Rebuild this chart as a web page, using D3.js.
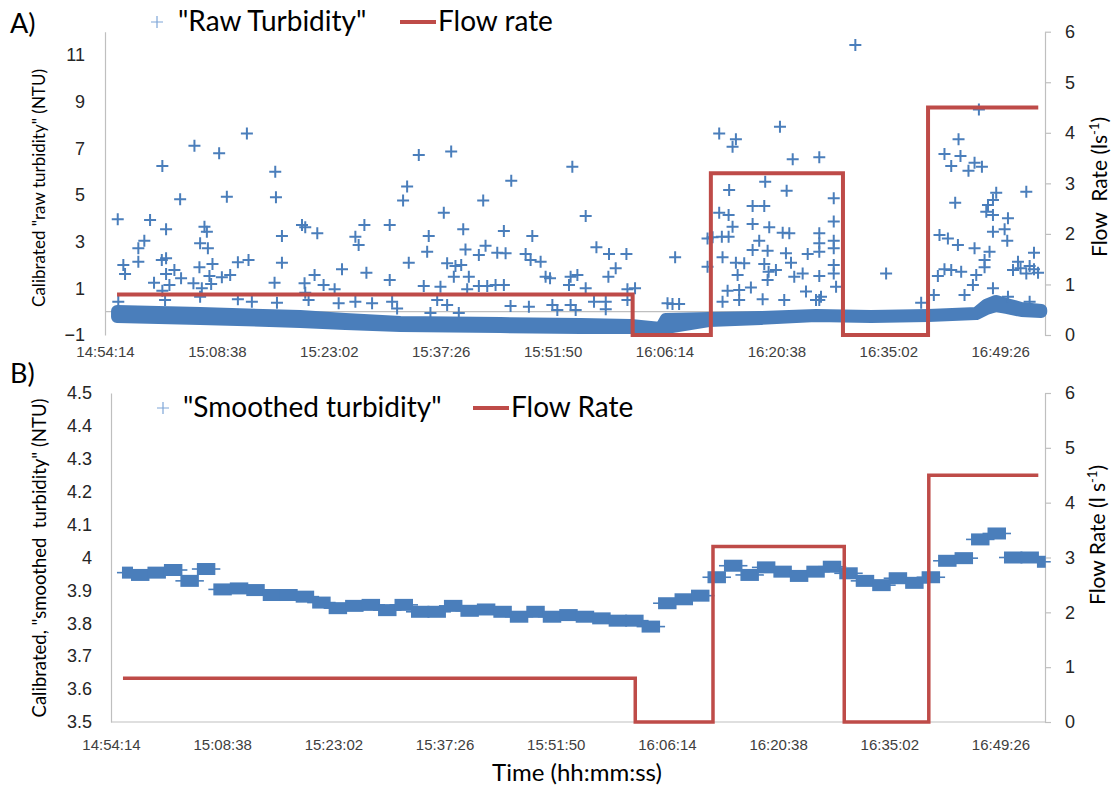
<!DOCTYPE html>
<html>
<head>
<meta charset="utf-8">
<script src="https://cdn.jsdelivr.net/npm/d3@7"></script>
<style>
  html, body { margin: 0; padding: 0; background: #fff; }
  svg { display: block; font-family: Lato, "Open Sans", sans-serif; }
</style>
</head>
<body>
<svg id="chart" width="1118" height="789"></svg>
<script>
// ---------- data ----------
const timeTicks = ["14:54:14", "15:08:38", "15:23:02", "15:37:26", "15:51:50",
                   "16:06:14", "16:20:38", "16:35:02", "16:49:26"];
const axisEnd = "16:55:12";

const rawTicksNTU = [-1, 1, 3, 5, 7, 9, 11];
const smoothTicksNTU = [3.5, 3.6, 3.7, 3.8, 3.9, 4.0, 4.1, 4.2, 4.3, 4.4, 4.5];
const flowTicks = [0, 1, 2, 3, 4, 5, 6];

// pump flow rate (l/s), held from each time until the next
const flowTimes = ["14:55:47", "16:02:08", "16:12:12", "16:29:12", "16:40:09", "16:54:20"];
const flowRates = [0.8, 0, 3.2, 0, 4.5, 4.5];

// raw turbidity spikes: minutes after logging start, calibrated NTU
const rawStart = "14:54:14";
const rawMinutes = [
  1.64, 18.26, 11.51, 14.69, 7.38, 21.91, 9.67, 15.68, 22.0, 5.80, 7.86, 12.80, 13.11, 25.35, 25.77,
  27.32, 22.77, 5.06, 4.29, 12.24, 13.24, 2.36, 2.58, 4.29, 7.31, 7.86, 13.83, 17.10, 18.47, 22.77,
  30.50, 6.31, 7.86, 8.29, 8.93, 9.79, 11.38, 12.15, 13.44, 13.66, 15.04, 16.11, 21.82, 26.97, 28.13,
  29.55, 25.68, 12.46, 7.38, 1.71, 7.73, 12.24, 17.10, 18.90, 22.13, 26.20, 30.07, 25.77,
  40.38, 44.55, 60.14, 38.88, 38.36, 52.28, 48.67, 43.60, 33.38, 36.64, 32.22, 32.64, 41.66, 46.10, 51.33,
  54.99, 41.46, 46.39, 48.97, 48.11, 50.48, 51.55, 54.13, 54.77, 56.06, 39.09, 44.03, 45.10, 45.84, 44.89,
  46.82, 33.64, 36.64, 56.70, 57.27, 59.92, 60.79, 41.02, 43.17, 48.11, 49.19, 50.26, 51.33, 46.61, 59.71,
  32.22, 34.37, 36.95, 37.59, 42.75, 44.03, 52.19, 54.55, 57.57, 58.21, 59.92, 41.88, 45.53,
  79.04, 81.19, 80.76, 86.86, 88.50, 84.96, 80.32, 87.72, 61.86, 79.04, 80.25, 83.34, 84.84, 80.76, 83.34,
  85.48, 87.21, 88.06, 78.19, 79.38, 80.25, 84.19, 63.24, 64.86, 67.10, 73.37, 79.47, 83.34, 85.27, 87.63,
  90.43, 65.72, 64.78, 81.19, 82.26, 84.84, 88.28, 85.40, 86.34, 81.41, 85.27, 88.70, 89.78, 61.86, 67.23,
  68.21, 80.12, 81.61, 83.12, 90.21, 62.93, 64.44, 67.23, 72.39, 73.03, 73.88, 79.47, 81.61, 84.63, 87.41,
  91.50, 60.57, 64.44, 77.54, 77.54,
  96.56, 112.46, 109.84, 108.03, 110.09, 108.90, 111.12, 111.90, 112.85, 91.92, 118.56, 109.41, 114.69, 114.27, 113.63,
  113.41, 114.27, 116.20, 115.77, 114.27, 116.11, 119.55, 93.78, 93.78, 91.92, 91.92, 93.78, 93.78, 91.92, 93.78,
  93.78, 91.92, 94.08, 92.14, 100.52, 107.39, 108.47, 109.76, 111.90, 113.83, 113.19, 113.19, 112.12, 111.69, 108.03,
  108.90, 110.18, 107.18, 110.61, 106.66, 114.27, 117.49, 117.82, 118.99, 119.55, 116.85, 118.56, 120.07, 116.20, 105.03,
  91.92, 118.99
];
const rawNTU = [
  3.96, 7.64, 7.11, 6.79, 6.24, 6.00, 4.82, 4.93, 4.90, 3.93, 3.53, 3.64, 3.43, 3.71, 3.62,
  3.36, 3.24, 3.04, 2.72, 2.93, 2.72, 2.00, 1.61, 2.14, 2.21, 2.29, 2.04, 2.12, 2.21, 2.10,
  1.82, 1.24, 1.61, 1.14, 1.79, 1.43, 1.22, 1.90, 1.53, 1.19, 1.47, 1.57, 1.24, 1.57, 1.14,
  0.96, 1.22, 1.00, 0.90, 0.43, 0.50, 0.64, 0.53, 0.43, 0.38, 0.50, 0.36, 0.81,
  6.71, 6.86, 6.21, 5.36, 4.76, 5.61, 4.76, 4.24, 3.71, 3.71, 3.21, 2.86, 3.24, 3.53, 3.46,
  3.24, 2.57, 2.67, 2.83, 2.43, 2.53, 2.50, 2.47, 2.21, 2.14, 2.10, 2.07, 1.96, 2.00, 1.50,
  1.50, 1.67, 1.36, 1.50, 1.43, 1.50, 1.57, 1.10, 1.07, 1.10, 1.10, 1.14, 1.14, 0.96, 1.14,
  0.43, 0.36, 0.43, 0.14, 0.50, 0.29, 0.24, 0.21, 0.29, 0.07, 0.29, -0.06, -0.06,
  7.64, 7.39, 7.07, 7.93, 6.53, 5.57, 5.21, 5.18, 4.10, 4.24, 4.14, 4.53, 4.53, 3.64, 3.76,
  3.62, 3.38, 3.36, 3.19, 3.21, 3.21, 3.04, 2.76, 2.47, 2.47, 2.33, 2.33, 2.64, 2.61, 2.50,
  2.47, 1.86, 1.50, 2.10, 2.07, 2.04, 2.10, 1.71, 1.79, 1.57, 1.36, 1.50, 1.64, 1.00, 0.96,
  1.00, 0.90, 0.93, 1.04, 0.86, 0.43, 0.43, 0.50, 0.36, 0.33, 0.33, 0.43, 0.50, 0.53, 0.50,
  0.50, 0.07, 0.10, 1.93, 3.14,
  11.43, 8.67, 7.39, 6.76, 6.67, 6.24, 6.04, 6.38, 6.21, 6.62, 5.14, 4.67, 5.10, 4.79, 4.57,
  4.28, 4.14, 4.00, 3.53, 3.43, 3.04, 2.53, 4.86, 3.86, 3.36, 2.93, 3.04, 2.72, 2.57, 2.00,
  1.64, 1.53, 1.07, 0.64, 1.64, 3.29, 3.14, 2.86, 2.72, 2.57, 2.21, 1.90, 1.57, 1.14, 1.82,
  1.79, 1.71, 1.53, 0.71, 0.71, 1.00, 2.14, 1.86, 1.96, 1.82, 1.79, 1.64, 1.67, 0.64, 0.38,
  0.50, 0.43
];

// bulk of the raw readings: lower / upper spread of the dense baseline (NTU)
const baseTimes = ["14:55:47", "15:06:29", "15:19:22", "15:25:10", "15:32:15", "15:45:08", "15:55:27",
                   "16:01:53", "16:05:45", "16:06:24", "16:11:56", "16:18:38", "16:25:44", "16:32:49",
                   "16:40:10", "16:46:21", "16:47:38", "16:48:55", "16:50:13", "16:52:09", "16:54:43"];
const baseLow  = [-0.23, -0.31, -0.44, -0.53, -0.61, -0.66, -0.70, -0.70, -0.70, -0.70, -0.40,
                  -0.31, -0.19, -0.23, -0.19, -0.10, 0.11, 0.24, 0.16, 0.03, -0.01];
const baseHigh = [0.03, -0.06, -0.19, -0.31, -0.44, -0.49, -0.53, -0.57, -0.70, -0.31, -0.27,
                  -0.23, -0.14, -0.19, -0.14, -0.06, 0.29, 0.46, 0.33, 0.16, 0.07];

// smoothed turbidity: one value per 128 s averaging window
const smoothFirstReading = "14:55:47";
const smoothLastReading = "16:55:10";
const smoothBlockStart = "14:56:57";   // end of the first (partial) window
const smoothWindowSec = 128;
const smoothNTU = [
  3.954, 3.947, 3.954, 3.962, 3.929, 3.965, 3.903, 3.906, 3.901, 3.886,
  3.886, 3.881, 3.863, 3.846, 3.853, 3.856, 3.840, 3.856, 3.835, 3.835,
  3.853, 3.838, 3.842, 3.835, 3.820, 3.835, 3.820, 3.825, 3.820, 3.815,
  3.808, 3.808, 3.790, 3.861, 3.873, 3.884, 3.940, 3.975, 3.947, 3.970,
  3.957, 3.944, 3.957, 3.972, 3.952, 3.929, 3.916, 3.937, 3.923, 3.940,
  3.990, 3.998, 4.055, 4.073, 4.000, 4.000, 3.987
];

// ---------- helpers ----------
const secs = s => { const p = s.split(":").map(Number); return p[0] * 3600 + p[1] * 60 + p[2]; };
const BLUE = "#4a7ebb", RED = "#be4b48", GRID = "#bfbfbf";
const svg = d3.select("#chart");

const tMin = secs(timeTicks[0]), tMax = secs(axisEnd);
const tickSecs = timeTicks.map(secs);

function timeAxis(g, x, y0, pad) {
  const ax = d3.axisBottom(x).tickValues(tickSecs).tickFormat((d, i) => timeTicks[i])
    .tickSize(0).tickPadding(pad);
  g.attr("transform", `translate(0,${y0})`).call(ax);
  g.select(".domain").remove();
  g.selectAll("text").attr("fill", "#404040").attr("font-size", 15);
}

function styleAxis(g) {
  g.select(".domain").attr("stroke", GRID).attr("stroke-width", 1.2);
  g.selectAll(".tick line").attr("stroke", GRID).attr("stroke-width", 1.2);
  g.selectAll("text").attr("font-size", 18).attr("fill", "#262626");
}

function plusPath(s) { return `M${-s},0H${s}M0,${-s}V${s}`; }

// ================= Panel A =================
const xA = d3.scaleLinear().domain([tMin, tMax]).range([105, 1045]);
const yA = d3.scaleLinear().domain([-1, 12]).range([335, 31.7]);
const yAR = d3.scaleLinear().domain([0, 6]).range([335, 31.7]);

const gA = svg.append("g");

// zero line of the turbidity axis
gA.append("line").attr("x1", 105).attr("x2", 1045).attr("y1", yA(0)).attr("y2", yA(0))
  .attr("stroke", GRID).attr("stroke-width", 1.2);

// left axis
styleAxis(gA.append("g").attr("transform", "translate(105,0)")
  .call(d3.axisLeft(yA).tickValues(rawTicksNTU).tickFormat(d3.format("d"))
    .tickSize(0).tickPadding(20).tickSizeOuter(0)));

// right axis
styleAxis(gA.append("g").attr("transform", "translate(1045,0)")
  .call(d3.axisRight(yAR).tickValues(flowTicks).tickFormat(d3.format("d"))
    .tickSize(6).tickPadding(14).tickSizeOuter(0)));

timeAxis(gA.append("g"), xA, 335, 11);

// dense baseline readings (stroke width equals the marker size)
const rStart = secs(rawStart);
const baseArea = d3.area()
  .x((d, i) => xA(secs(baseTimes[i])))
  .y0((d, i) => yA(baseLow[i]))
  .y1((d, i) => yA(baseHigh[i]));
gA.append("path").datum(baseTimes).attr("d", baseArea)
  .attr("fill", BLUE).attr("stroke", BLUE).attr("stroke-width", 12).attr("stroke-linejoin", "round");

// individual raw readings
gA.append("g").selectAll("path").data(rawMinutes).join("path")
  .attr("transform", (d, i) => `translate(${xA(rStart + d * 60)},${yA(rawNTU[i])})`)
  .attr("d", plusPath(6)).attr("stroke", BLUE).attr("stroke-width", 2).attr("fill", "none");

// flow rate (step)
const flowA = d3.line().curve(d3.curveStepAfter)
  .x((d, i) => xA(secs(flowTimes[i]))).y((d, i) => yAR(flowRates[i]));
gA.append("path").datum(flowTimes).attr("d", flowA)
  .attr("fill", "none").attr("stroke", RED).attr("stroke-width", 4).attr("stroke-linejoin", "miter");

// labels
svg.append("text").attr("x", 10).attr("y", 33).attr("font-size", 27).attr("fill", "#000").text("A)");
svg.append("text").attr("transform", `translate(45,188) rotate(-90)`).attr("text-anchor", "middle")
  .attr("font-size", 17).attr("fill", "#000").text('Calibrated "raw turbidity" (NTU)');
const tAR = svg.append("text").attr("transform", `translate(1107,187) rotate(-90)`)
  .attr("text-anchor", "middle").attr("font-size", 21).attr("fill", "#000").style("white-space", "pre");
tAR.append("tspan").text("Flow  Rate (ls");
tAR.append("tspan").attr("font-size", 13).attr("dy", -8).text("-1");
tAR.append("tspan").attr("dy", 8).text(")");

// legend A
svg.append("path").attr("transform", "translate(157,22)").attr("d", plusPath(6))
  .attr("stroke", "#7ea6d8").attr("stroke-width", 1.2);
svg.append("text").attr("x", 178).attr("y", 31).attr("font-size", 28).attr("fill", "#000").text('"Raw Turbidity"');
svg.append("line").attr("x1", 400).attr("x2", 436).attr("y1", 22).attr("y2", 22)
  .attr("stroke", RED).attr("stroke-width", 4);
svg.append("text").attr("x", 438).attr("y", 31).attr("font-size", 28).attr("fill", "#000").text("Flow rate");

// ================= Panel B =================
const xB = d3.scaleLinear().domain([tMin, tMax]).range([111, 1045]);
const yB = d3.scaleLinear().domain([3.5, 4.5]).range([722, 393]);
const yBR = d3.scaleLinear().domain([0, 6]).range([722, 393]);

const gB = svg.append("g");

styleAxis(gB.append("g").attr("transform", "translate(111,0)")
  .call(d3.axisLeft(yB).tickValues(smoothTicksNTU).tickFormat(d => String(+d.toFixed(1)))
    .tickSize(0).tickPadding(19).tickSizeOuter(0)));

styleAxis(gB.append("g").attr("transform", "translate(1045,0)")
  .call(d3.axisRight(yBR).tickValues(flowTicks).tickFormat(d3.format("d"))
    .tickSize(6).tickPadding(14).tickSizeOuter(0)));

gB.append("line").attr("x1", 111).attr("x2", 1045).attr("y1", yB(3.5)).attr("y2", yB(3.5))
  .attr("stroke", GRID).attr("stroke-width", 1.2);
timeAxis(gB.append("g"), xB, 722, 17);

// smoothed readings: each window is a run of identical values
const sFirst = secs(smoothFirstReading), sLast = secs(smoothLastReading), sStart = secs(smoothBlockStart);
const blocks = smoothNTU.map((v, i) => ({
  lo: i === 0 ? sFirst : sStart + (i - 1) * smoothWindowSec,
  hi: Math.min(sLast, sStart + i * smoothWindowSec),
  v
}));
const gS = gB.append("g");
gS.selectAll("line").data(blocks).join("line")
  .attr("x1", d => xB(d.lo) - 6).attr("x2", d => xB(d.hi) + 6)
  .attr("y1", d => yB(d.v)).attr("y2", d => yB(d.v))
  .attr("stroke", BLUE).attr("stroke-width", 1.6);
gS.selectAll("rect").data(blocks).join("rect")
  .attr("x", d => xB(d.lo) - 1).attr("width", d => xB(d.hi) - xB(d.lo) + 2)
  .attr("y", d => yB(d.v) - 6).attr("height", 12).attr("fill", BLUE);

const flowB = d3.line().curve(d3.curveStepAfter)
  .x((d, i) => xB(secs(flowTimes[i]))).y((d, i) => yBR(flowRates[i]));
gB.append("path").datum(flowTimes).attr("d", flowB)
  .attr("fill", "none").attr("stroke", RED).attr("stroke-width", 3.5).attr("stroke-linejoin", "miter");

svg.append("text").attr("x", 10).attr("y", 383).attr("font-size", 27).attr("fill", "#000").text("B)");
svg.append("text").attr("transform", `translate(46,558) rotate(-90)`).attr("text-anchor", "middle")
  .attr("font-size", 18.5).attr("fill", "#000").style("white-space", "pre")
  .text('Calibrated, "smoothed  turbidity" (NTU)');
const tBR = svg.append("text").attr("transform", `translate(1105,535) rotate(-90)`)
  .attr("text-anchor", "middle").attr("font-size", 21).attr("fill", "#000");
tBR.append("tspan").text("Flow Rate (l s");
tBR.append("tspan").attr("font-size", 13).attr("dy", -8).text("-1");
tBR.append("tspan").attr("dy", 8).text(")");

svg.append("text").attr("x", 577).attr("y", 781).attr("text-anchor", "middle")
  .attr("font-size", 24).attr("fill", "#000").text("Time (hh:mm:ss)");

// legend B
svg.append("path").attr("transform", "translate(163,408)").attr("d", plusPath(6))
  .attr("stroke", "#7ea6d8").attr("stroke-width", 1.2);
svg.append("text").attr("x", 183).attr("y", 417).attr("font-size", 28).attr("fill", "#000").text('"Smoothed turbidity"');
svg.append("line").attr("x1", 473).attr("x2", 509).attr("y1", 408).attr("y2", 408)
  .attr("stroke", RED).attr("stroke-width", 4);
svg.append("text").attr("x", 511).attr("y", 417).attr("font-size", 28).attr("fill", "#000").text("Flow Rate");
</script>
</body>
</html>
